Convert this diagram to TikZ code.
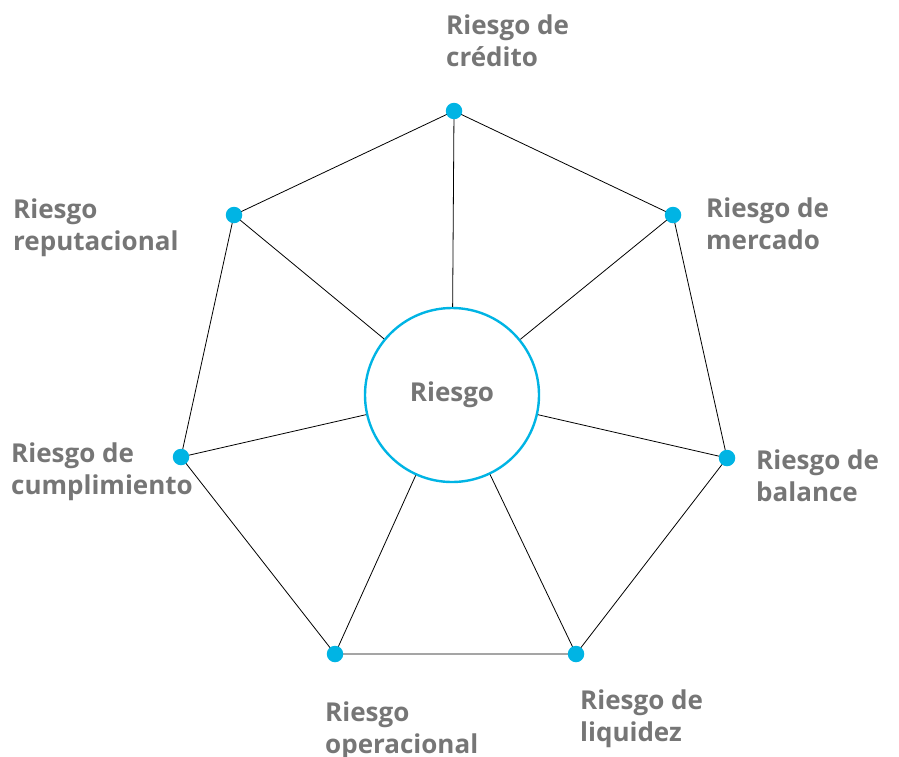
\documentclass[tikz,border=0pt]{standalone}
\usepackage{fontspec}
\setmainfont{Open Sans}
\definecolor{riskblue}{HTML}{00B4E4}
\definecolor{labgray}{HTML}{767676}
\tikzset{
  vdot/.style={circle,fill=riskblue,minimum size=16.5pt,inner sep=0pt},
  hub/.style={circle,draw=riskblue,line width=2.4pt,minimum size=174pt,inner sep=0pt,fill=white,text=labgray,font=\fontsize{26}{32}\selectfont\bfseries},
  lab/.style={anchor=base west,inner sep=0pt,text=labgray,font=\fontsize{26}{32}\selectfont\bfseries},
  edge/.style={black,line width=0.8pt},
}
\newcommand{\twol}[2]{\renewcommand\arraystretch{1}\begin{tabular}[t]{@{}l@{}}#1\\#2\end{tabular}}
\begin{document}
\begin{tikzpicture}[x=1pt,y=-1pt]
\useasboundingbox (0,0) rectangle (899,756);
\node[hub] (c) at (452,395) {Riesgo};
\coordinate (p1) at (454,111);
\coordinate (p2) at (673,215);
\coordinate (p3) at (727,458);
\coordinate (p4) at (576,654);
\coordinate (p5) at (335,654);
\coordinate (p6) at (181,457);
\coordinate (p7) at (234,215);
\draw[edge] (p1) -- (p2) -- (p3) -- (p4) -- (p5) -- (p6) -- (p7) -- cycle;
\foreach \i in {1,...,7}{
  \draw[edge] (p\i) -- (c);
}
\foreach \i in {1,...,7}{
  \node[vdot] (d\i) at (p\i) {};
}
\node[lab] (l1) at (446,34) {\twol{Riesgo de}{crédito}};
\node[lab] (l2) at (706,217) {\twol{Riesgo de}{mercado}};
\node[lab] (l3) at (756,469) {\twol{Riesgo de}{balance}};
\node[lab] (l4) at (580,709) {\twol{Riesgo de}{liquidez}};
\node[lab] (l5) at (325,721) {\twol{Riesgo}{operacional}};
\node[lab] (l6) at (11,462) {\twol{Riesgo de}{cumplimiento}};
\node[lab] (l7) at (13,218) {\twol{Riesgo}{reputacional}};
\end{tikzpicture}
\end{document}
